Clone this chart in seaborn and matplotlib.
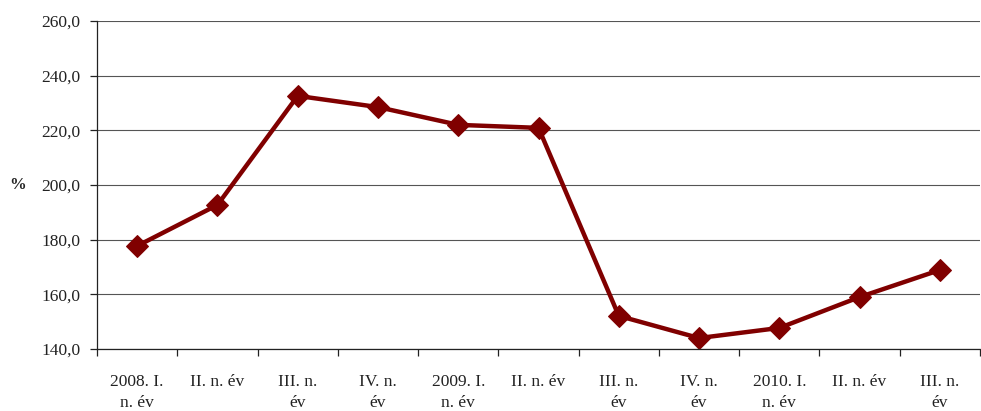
import numpy as np
import pandas as pd
import matplotlib
matplotlib.use("Agg")
import matplotlib.pyplot as plt
import seaborn as sns
from matplotlib.ticker import FuncFormatter

# Adatok (negyedéves értékek, %)
negyedevek = ["2008. I.\nn. év", "II. n. év", "III. n.\név", "IV. n.\név",
              "2009. I.\nn. év", "II. n. év", "III. n.\név", "IV. n.\név",
              "2010. I.\nn. év", "II. n. év", "III. n.\név"]
ertekek = [177.7, 192.7, 232.6, 228.5, 222.0, 220.9, 152.1, 144.0, 147.7, 159.0, 168.9]

df = pd.DataFrame({"pos": np.arange(len(ertekek)), "ertek": ertekek})

sns.set_theme(style="white")
plt.rcParams["font.family"] = ["Liberation Serif", "DejaVu Serif"]

fig = plt.figure(figsize=(9.81, 4.11), dpi=100)
ax = fig.add_axes([0.0989, 0.1509, 0.9001, 0.798])

sns.lineplot(data=df, x="pos", y="ertek", ax=ax, color="#800000",
             linewidth=3.2, marker="D", markersize=11,
             markeredgecolor="#800000", markerfacecolor="#800000")

# Tengelyek
ax.set_ylim(140, 260)
ax.set_yticks(np.arange(140, 261, 20))
ax.yaxis.set_major_formatter(FuncFormatter(lambda v, p: f"{v:.1f}".replace(".", ",")))
ax.set_xlim(-0.5, len(ertekek) - 0.5)
ax.set_xticks(df["pos"])
ax.set_xticklabels(negyedevek, linespacing=1.45)
ax.set_xticks(np.arange(-0.5, len(ertekek), 1), minor=True)

ax.tick_params(axis="x", which="major", length=0, pad=18, labelsize=12.5, colors="#222222")
ax.tick_params(axis="x", which="minor", length=5, width=0.9, color="#222222", bottom=True)
ax.tick_params(axis="y", length=5, width=0.9, color="#222222", left=True,
               pad=7, labelsize=12.5, labelcolor="#222222")

ax.grid(axis="y", color="#555555", linewidth=0.8)
ax.set_axisbelow(True)
ax.set_xlabel("")
ax.set_ylabel("%", rotation=0, fontsize=12, fontweight="bold", va="center", ha="center")
ax.yaxis.set_label_coords(-0.09, 0.5)

for s in ["top", "right"]:
    ax.spines[s].set_visible(False)
for s in ["left", "bottom"]:
    ax.spines[s].set_color("#222222")
    ax.spines[s].set_linewidth(0.9)

fig.savefig("out.png", dpi=100)
